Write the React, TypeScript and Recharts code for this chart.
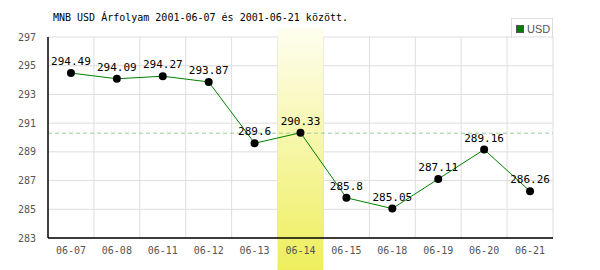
import React from "react"
import {
  CartesianGrid,
  LabelList,
  Line,
  LineChart,
  ReferenceArea,
  ReferenceLine,
  XAxis,
  YAxis,
} from "recharts"

const dates = ["06-07", "06-08", "06-11", "06-12", "06-13", "06-14", "06-15", "06-18", "06-19", "06-20", "06-21"]
const usd = [294.49, 294.09, 294.27, 293.87, 289.6, 290.33, 285.8, 285.05, 287.11, 289.16, 286.26]
const yTicks = [283, 285, 287, 289, 291, 293, 295, 297]
const average = 290.3
const highlighted = "06-14"

const data = dates.map((d, i) => ({ date: d, usd: usd[i] }))

const mono = "'DejaVu Sans Mono', monospace"

export default function App() {
  return (
    <div style={{ position: "absolute", left: 0, top: 0, width: 600, height: 270, background: "#fff" }}>
      <div
        style={{
          position: "absolute",
          left: 53,
          top: 12,
          fontFamily: mono,
          fontSize: 10,
          color: "#000",
          whiteSpace: "nowrap",
        }}
      >
        MNB USD Árfolyam 2001-06-07 és 2001-06-21 között.
      </div>
      <div
        style={{
          position: "absolute",
          left: 511,
          top: 18,
          width: 40,
          height: 19,
          border: "1px solid #ddd",
          borderBottom: "none",
          boxSizing: "content-box",
          fontFamily: "'Liberation Sans', Arial, sans-serif",
          fontSize: 11,
          color: "#555",
          display: "flex",
          alignItems: "center",
        }}
      >
        <span
          style={{
            display: "inline-block",
            width: 6,
            height: 6,
            background: "#008000",
            border: "1px solid #555",
            marginLeft: 4,
            marginRight: 3,
          }}
        />
        USD
      </div>
      <LineChart width={600} height={270} data={data} margin={{ top: 37, right: 47, left: 0, bottom: 0 }}>
        <defs>
          <linearGradient id="hl" x1="0" y1="0" x2="0" y2="1">
            <stop offset="0%" stopColor="#fefef0" />
            <stop offset="100%" stopColor="#eeee5c" />
          </linearGradient>
        </defs>
        <CartesianGrid
          stroke="#dddddd"
          horizontalValues={yTicks}
          verticalCoordinatesGenerator={({ offset }: any) =>
            dates.map((_, i) => offset.left + ((i + 1) * offset.width) / dates.length)
          }
        />
        <ReferenceLine y={average} stroke="#a3c8a3" strokeDasharray="4 3" />
        <ReferenceLine y={283} stroke="#000" strokeWidth={1.5} />
        <ReferenceArea
          x1={highlighted}
          x2={highlighted}
          y1={280.75}
          y2={297.65}
          ifOverflow="visible"
          fill="url(#hl)"
          fillOpacity={1}
          stroke="none"
        />
        <XAxis
          dataKey="date"
          scale="band"
          axisLine={false}
          tickLine={false}
          tickMargin={3}
          height={32}
          interval={0}
          tick={{ fill: "#555", fontFamily: mono, fontSize: 10 }}
        />
        <YAxis
          domain={[283, 297]}
          ticks={yTicks}
          width={48}
          axisLine={{ stroke: "#000", strokeWidth: 1.5 }}
          tickLine={false}
          tickMargin={6}
          tick={{ fill: "#555", fontFamily: mono, fontSize: 10 }}
        />
        <Line
          type="linear"
          dataKey="usd"
          stroke="#008000"
          strokeWidth={1}
          dot={{ r: 4, fill: "#000", stroke: "#000", strokeWidth: 0 }}
          isAnimationActive={false}
        >
          <LabelList dataKey="usd" position="top" offset={8} fill="#000" fontFamily={mono} fontSize={11} />
        </Line>
      </LineChart>
    </div>
  )
}
